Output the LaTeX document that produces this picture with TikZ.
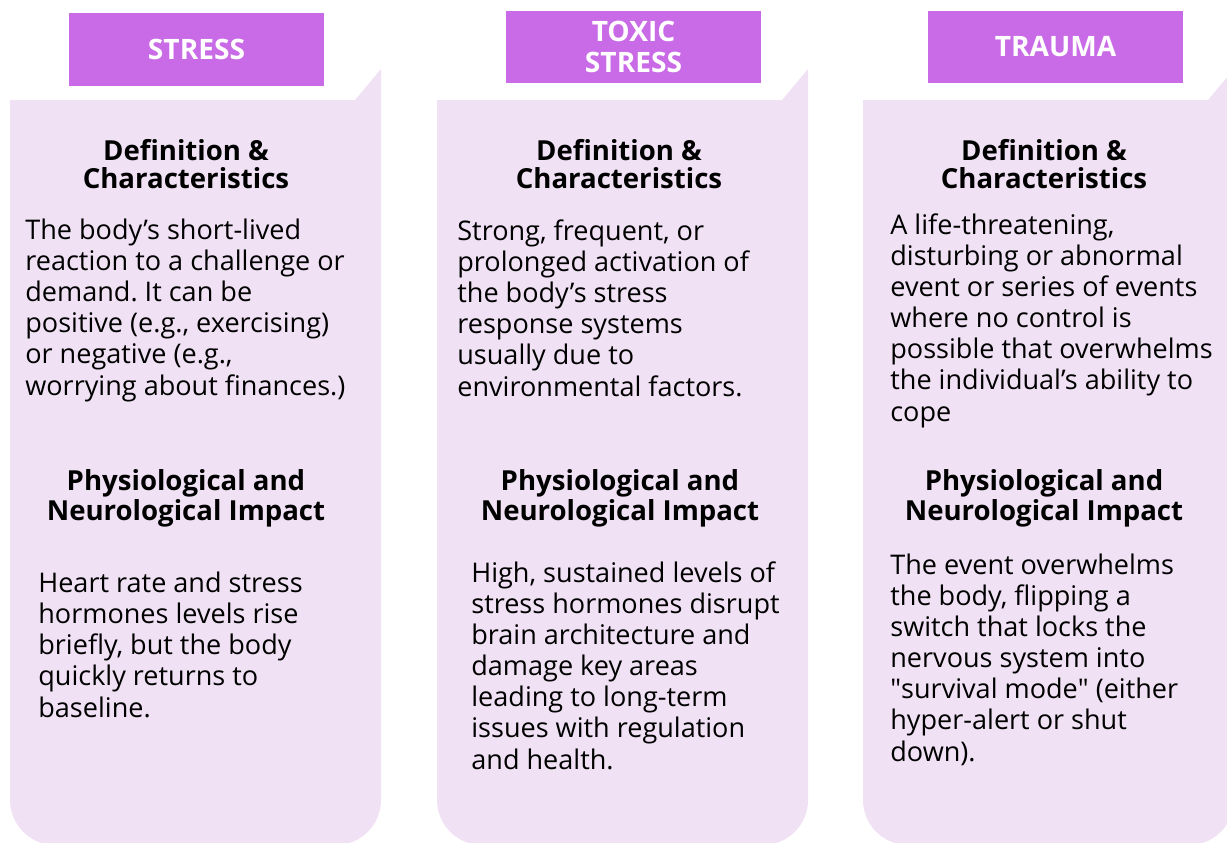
\documentclass[tikz,border=0pt]{standalone}
\usepackage{fontspec}
\setmainfont{Open Sans}
\usetikzlibrary{positioning}
\definecolor{tabpurple}{HTML}{C96BE6}
\definecolor{cardlilac}{HTML}{F0E2F4}
\frenchspacing

\begin{document}
\begin{tikzpicture}[x=0.02cm, y=-0.02cm,
    card/.style={fill=cardlilac},
    tab/.style={fill=tabpurple, text=white, minimum width=5.1cm, minimum height=1.46cm, inner sep=0pt, align=center, font=\fontsize{16}{17.6}\selectfont\bfseries},
    head/.style={inner sep=0pt, anchor=base, align=center, font=\fontsize{15.7}{15.4}\selectfont\bfseries},
    body/.style={inner sep=0pt, anchor=base west, align=left, font=\fontsize{15.4}{17.7}\selectfont},
    ]

    \clip (0,0) rectangle (1227,842);

    % Cards with cut corner (top right) and round bottom
    \foreach \px in {10,437,863} {
        \fill[card, rounded corners=0.9cm] (\px+185,845) -- (\px,845) -- (\px,470)
            [sharp corners] -- (\px,100) -- (\px+345,100) -- (\px+371,69) -- (\px+371,470)
            [rounded corners=0.9cm] -- (\px+371,845) -- cycle;
    }

    % Tabs (above the cards)
    \node[tab] (tabstress) at (196.5,49.5) {STRESS};
    \node[tab] (tabtoxic) at (633.5,47) {TOXIC\\STRESS};
    \node[tab] (tabtrauma) at (1055.5,47) {TRAUMA};

    % Stress (base = last line)
    \node[head] (defstress) at (186,188) {Definition \&\\Characteristics};
    \node[body] (txtdefstress) at (25,395) {The body’s short-lived\\reaction to a challenge or\\demand. It can be\\positive (e.g., exercising)\\or negative (e.g.,\\worrying about finances.)};
    \node[head] (impstress) at (186,520) {Physiological and\\Neurological Impact};
    \node[body] (txtimpstress) at (38,717) {Heart rate and stress\\hormones levels rise\\briefly, but the body\\quickly returns to\\baseline.};

    % Toxic stress
    \node[head] (deftoxic) at (619,188) {Definition \&\\Characteristics};
    \node[body] (txtdeftoxic) at (457,396) {Strong, frequent, or\\prolonged activation of\\the body’s stress\\response systems\\usually due to\\environmental factors.};
    \node[head] (imptoxic) at (620,520) {Physiological and\\Neurological Impact};
    \node[body] (txtimptoxic) at (471,769) {High, sustained levels of\\stress hormones disrupt\\brain architecture and\\damage key areas\\leading to long-term\\issues with regulation\\and health.};

    % Trauma
    \node[head] (deftrauma) at (1044,188) {Definition \&\\Characteristics};
    \node[body] (txtdeftrauma) at (890,421) {A life-threatening,\\disturbing or abnormal\\event or series of events\\where no control is\\possible that overwhelms\\the individual’s ability to\\cope};
    \node[head] (imptrauma) at (1044,520) {Physiological and\\Neurological Impact};
    \node[body] (txtimptrauma) at (890,761) {The event overwhelms\\the body, flipping a\\switch that locks the\\nervous system into\\\textquotedbl survival mode\textquotedbl{} (either\\hyper-alert or shut\\down).};
\end{tikzpicture}
\end{document}
